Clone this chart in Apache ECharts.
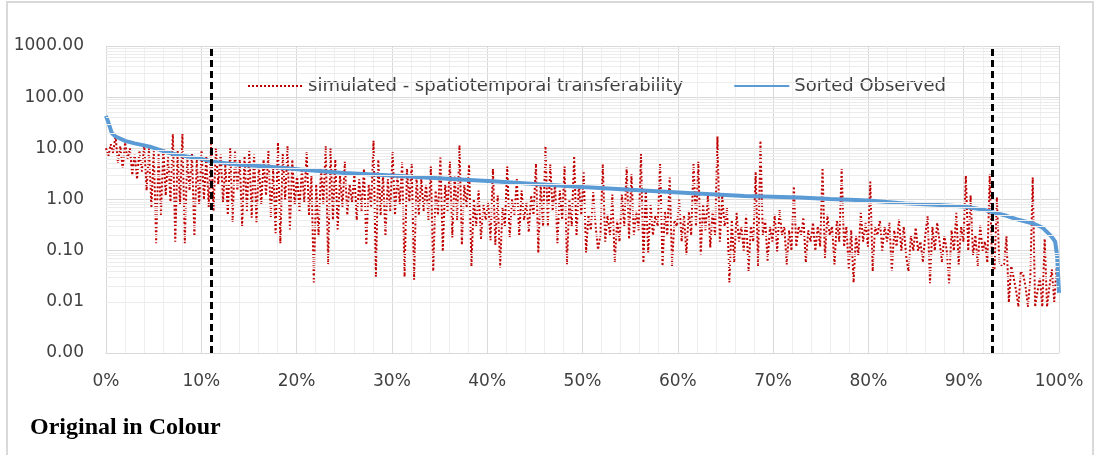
<!DOCTYPE html>
<html>
<head>
<meta charset="utf-8">
<script src="https://cdn.jsdelivr.net/npm/echarts@6/dist/echarts.min.js"></script>
<style>
html,body{margin:0;padding:0;background:#fff;}
#chart{width:1099px;height:455px;}
</style>
</head>
<body>
<div id="chart"></div>
<script>
// ---- Data ----
const seriesNames = ['simulated - spatiotemporal transferability', 'Sorted Observed'];
const xTickLabels = ['0%','10%','20%','30%','40%','50%','60%','70%','80%','90%','100%'];
const yTickValues = [0.001, 0.01, 0.1, 1, 10, 100, 1000];
const cutoffs = [11, 93]; // dashed vertical markers, % of ranks

// Sorted observed (x in %, value)
const obsX = [0,0.3,0.6,1,2,3,4.6,6.4,8,9.9,11.2,14,16.9,20.4,25,30,33.5,41,45,50,55,62,67,72.8,76,80,83.8,87,90,92,93.1,94.5,95.6,97.3,98.3,99.2,99.6,99.8,100];
const obsY = [43,30,20,17,14,12.5,10.8,8.3,7.2,6.3,5.5,4.8,4.4,3.85,3.3,2.95,2.7,2.25,2.0,1.75,1.55,1.31,1.17,1.09,1.02,0.96,0.84,0.79,0.73,0.64,0.56,0.48,0.41,0.34,0.28,0.19,0.15,0.08,0.015];

// Simulated values (evenly spread over 0-100 %)
const simY = [
 10,7,12,8, 18,5,11,4, 13,6,10,3, 8,2.5,9,3.5, 12,1.5,10,0.7, 9,0.14,8,0.5, 10,1.2,7,0.9, 20,0.15,9,0.8, 19,0.14,7,1.5, 8,0.19,6,0.8,
 9,1.0,7,0.7, 12,0.6,10,2, 8,0.9,5,0.5, 10,0.36,9,1.5, 6,0.3,7,0.6, 9,0.44,8,0.35, 5,0.8,6,1.2, 9,0.44,4,0.22, 13,0.14,8,1.0, 11,0.26,6,0.8,
 3,0.6,4,0.9, 8.6,0.5,3,0.024, 2,0.19,4,0.8, 11,0.054,10,0.4, 6,0.26,3,0.7, 5.5,0.5,2,0.9, 3,0.4,2.5,0.6, 4,0.13,2,0.7, 14,0.031,6,0.5, 3,0.19,2.5,0.6,
 8.6,0.5,3,0.8, 5.5,0.031,4,0.9, 5,0.027,3,0.5, 2.5,0.6,2,0.4, 4.4,0.04,1.5,0.5, 6.6,0.097,2,0.6, 5.5,0.18,3,0.4, 11.4,0.13,2,0.7, 4.8,0.05,1,0.3, 1.5,0.17,0.8,0.4,
 0.9,0.16,4,0.13, 1.2,0.047,0.7,0.3, 4.4,0.18,1,0.5, 2.5,0.19,1.5,0.4, 0.9,0.23,1.2,0.5, 5,0.09,2,0.3, 11,0.3,4.8,0.6, 2,0.14,1.5,0.4, 4.4,0.054,1,0.3, 6.9,0.19,2,0.5,
 3.4,0.092,0.5,0.25, 1.4,0.3,0.105,0.2, 4.8,0.15,0.5,0.2, 1.25,0.058,0.4,0.15, 1.25,0.3,4.2,0.17, 3.1,0.2,0.6,0.25, 7.9,0.058,1.6,0.092, 0.8,0.2,0.5,0.3, 5.3,0.05,0.6,0.2, 2.7,0.05,0.4,0.3,
 1.0,0.15,0.5,0.084, 0.6,0.2,5.3,0.3, 5.5,0.084,0.8,0.25, 1.2,0.115,0.6,0.2, 17,0.15,1.2,0.3, 0.7,0.024,0.4,0.058, 0.55,0.15,0.3,0.1, 0.5,0.039,0.3,0.15, 3.4,0.05,14,0.2, 0.4,0.062,0.3,0.15,
 0.5,0.097,0.64,0.2, 0.3,0.054,0.25,0.1, 1.8,0.12,0.3,0.2, 0.44,0.058,0.25,0.15, 0.35,0.1,0.3,0.12, 4.2,0.07,0.5,0.2, 0.3,0.054,0.4,0.15, 4,0.12,0.3,0.043, 0.25,0.024,0.2,0.08, 0.55,0.15,0.35,0.12,
 2.25,0.039,0.3,0.2, 0.4,0.1,0.3,0.15, 0.35,0.039,0.25,0.12, 0.41,0.1,0.3,0.08, 0.039,0.2,0.1,0.28, 0.1,0.15,0.06,0.2, 0.47,0.023,0.3,0.1, 0.35,0.15,0.06,0.2, 0.1,0.023,0.25,0.1, 0.55,0.054,0.3,0.15,
 2.9,0.1,1.2,0.08, 0.2,0.05,0.32,0.1, 0.15,0.058,3.1,0.05, 0.043,1.1,0.06,0.05, 0.054,0.19,0.0097,0.05, 0.03,0.017,0.0081,0.04, 0.034,0.02,0.008,0.03, 2.7,0.008,0.016,0.03, 0.008,0.17,0.008,0.02, 0.043,0.01,0.047,0.02
];

// ---- Build ----
const simData = simY.map((v, i) => [i / (simY.length - 1) * 100, v]);
const obsData = obsX.map((x, i) => [x, obsY[i]]);

// Minor log gridlines (2..9 within each decade)
const minorLines = [];
for (let d = 0; d < yTickValues.length - 1; d++) {
  for (let m = 2; m <= 9; m++) minorLines.push({ yAxis: yTickValues[d] * m });
}

const FONT = 'DejaVu Sans';
const chart = echarts.init(document.getElementById('chart'), null, { renderer: 'canvas' });
chart.setOption({
  animation: false,
  backgroundColor: '#ffffff',
  grid: { left: 106, right: 40, top: 46, bottom: 102, containLabel: false },
  legend: {
    data: seriesNames,
    left: 242, top: 72,
    itemWidth: 55, itemHeight: 20, itemGap: 50,
    itemStyle: { opacity: 0, borderWidth: 0 },
    textStyle: { fontFamily: FONT, fontSize: 18, color: '#404040' }
  },
  xAxis: {
    type: 'value', min: 0, max: 100, interval: 10,
    axisLabel: { formatter: v => xTickLabels[Math.round(v / 10)], fontFamily: FONT, fontSize: 17, color: '#404040', margin: 20 },
    axisLine: { show: true, lineStyle: { color: '#d9d9d9' } },
    axisTick: { show: false },
    splitLine: { show: true, lineStyle: { color: '#d9d9d9', width: 1 } },
    minorTick: { show: false, splitNumber: 5 },
    minorSplitLine: { show: true, lineStyle: { color: '#eeeeee', width: 1 } }
  },
  yAxis: {
    type: 'log', logBase: 10, min: 0.001, max: 1000,
    axisLabel: { formatter: v => Number(v).toFixed(2), fontFamily: FONT, fontSize: 17, color: '#404040', margin: 22 },
    axisLine: { show: false },
    axisTick: { show: false },
    splitLine: { show: true, lineStyle: { color: '#d9d9d9', width: 1 } }
  },
  graphic: [
    { type: 'rect', shape: { x: 7, y: 2, width: 1086, height: 480 }, style: { fill: 'none', stroke: '#d9d9d9', lineWidth: 2 }, silent: true, z: 0 },
    { type: 'text', left: 30, top: 416, style: { text: 'Original in Colour', font: 'bold 24px "Liberation Serif", "Times New Roman", serif', fill: '#000' } }
  ],
  series: [
    {
      name: 'minor grid', type: 'line', data: [[0, 1]], showSymbol: false, symbol: 'none',
      lineStyle: { opacity: 0 }, silent: true, z: 1,
      markLine: { silent: true, symbol: 'none', label: { show: false },
        lineStyle: { color: '#ececec', width: 1, type: 'solid' }, data: minorLines }
    },
    {
      name: seriesNames[0], type: 'line', data: simData, showSymbol: false, symbol: 'none',
      lineStyle: { color: '#c00000', width: 2, type: [2, 2] }, itemStyle: { color: '#c00000' }, z: 3
    },
    {
      name: seriesNames[1], type: 'line', data: obsData, showSymbol: false, symbol: 'none',
      lineStyle: { color: '#5b9bd5', width: 4 }, itemStyle: { color: '#5b9bd5' }, z: 4,
      markLine: { silent: true, symbol: 'none', label: { show: false },
        lineStyle: { color: '#000', width: 3, type: [7, 4] },
        data: cutoffs.map(c => ({ xAxis: c })) }
    }
  ]
});
</script>
</body>
</html>
